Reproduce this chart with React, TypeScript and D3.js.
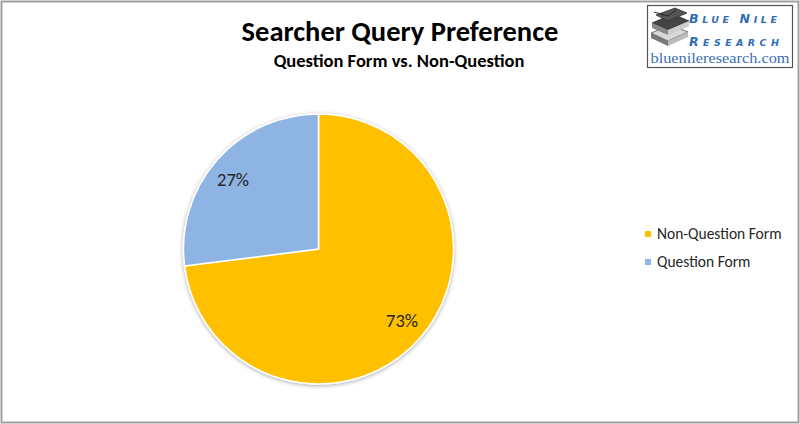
import React from "react";
import * as d3 from "d3";

const categories = ["Non-Question Form", "Question Form"];
const values = [73, 27];
const colors = ["#FFC000", "#8EB4E3"];
const labels = ["73%", "27%"];
const title = "Searcher Query Preference";
const subtitle = "Question Form vs. Non-Question";

const W = 800;
const H = 424;
const cx = 318.5;
const cy = 249;
const R = 135;

export default function App() {
  const pie = d3.pie<number>().sort(null).value((d) => d)(values);
  const arc = d3.arc<d3.PieArcDatum<number>>().innerRadius(0).outerRadius(R);
  const font = "Carlito, Lato, 'Open Sans', sans-serif";
  const labelPos = [
    [402, 327],
    [233, 186],
  ];
  return (
    <svg width={W} height={H} style={{ position: "absolute", left: 0, top: 0 }} xmlns="http://www.w3.org/2000/svg">
      <defs>
        <filter id="sh" x="-10%" y="-10%" width="120%" height="120%">
          <feGaussianBlur in="SourceAlpha" stdDeviation="2" />
          <feOffset dx="0" dy="1" result="b" />
          <feComponentTransfer>
            <feFuncA type="linear" slope="0.35" />
          </feComponentTransfer>
          <feMerge>
            <feMergeNode />
            <feMergeNode in="SourceGraphic" />
          </feMerge>
        </filter>
      </defs>
      <rect x={0} y={0} width={W} height={H} fill="#fff" />
      <rect x={1.5} y={1.5} width={W - 3} height={H - 3} fill="none" stroke="#a0a0a0" strokeWidth={2} />
      <text x={400} y={41} textAnchor="middle" fontFamily={font} fontWeight="bold" fontSize={28.5} fill="#000">
        {title}
      </text>
      <text x={399} y={67} textAnchor="middle" fontFamily={font} fontWeight="bold" fontSize={18.5} fill="#000">
        {subtitle}
      </text>
      <g transform={`translate(${cx},${cy})`} filter="url(#sh)">
        {pie.map((p, i) => (
          <path key={i} d={arc(p) || ""} fill={colors[i]} stroke="#fff" strokeWidth={1.5} />
        ))}
      </g>
      {pie.map((p, i) => (
        <text
          key={"l" + i}
          x={labelPos[i][0]}
          y={labelPos[i][1]}
          textAnchor="middle"
          fontFamily={font}
          fontSize={18.5}
          fill="#262626"
        >
          {labels[i]}
        </text>
      ))}
      {categories.map((c, i) => (
        <g key={"lg" + i} transform={`translate(645,${231 + i * 28})`}>
          <rect x={0} y={0} width={6} height={6} fill={colors[i]} />
          <text x={12} y={7.5} fontFamily={font} fontSize={15.5} fill="#262626">
            {c}
          </text>
        </g>
      ))}
      {/* logo */}
      <g>
        <rect x={647.5} y={5.5} width={145} height={62} fill="#fff" stroke="#555" strokeWidth={1.2} />
        <g>
          <path d="M651 33 L671 25 L688 32 L668 41 Z" fill="#d8d8d8" stroke="#555" strokeWidth={0.8} />
          <path d="M651 33 L668 41 L668 46 L651 38 Z" fill="#777" />
          <path d="M668 41 L688 32 L688 37 L668 46 Z" fill="#bbb" />
          <path d="M652 23 L673 14 L689 21 L668 30 Z" fill="#444" stroke="#333" strokeWidth={0.8} />
          <path d="M652 23 L668 30 L668 35 L652 28 Z" fill="#888" />
          <path d="M668 30 L689 21 L689 26 L668 35 Z" fill="#ccc" />
          <path d="M656 15 L675 8 L687 13 L668 21 Z" fill="#555" stroke="#333" strokeWidth={0.8} />
          <path d="M654 12 L668 16 L676 10" fill="none" stroke="#222" strokeWidth={1} />
        </g>
        <text x={689} y={23} fontFamily="'DejaVu Sans', sans-serif" fontWeight="bold" fontStyle="italic" fill="#2f6db5" letterSpacing={3.6}>
          <tspan fontSize={12.5}>B</tspan>
          <tspan fontSize={9.5}>LUE </tspan>
          <tspan fontSize={12.5}>N</tspan>
          <tspan fontSize={9.5}>ILE</tspan>
        </text>
        <text x={689} y={46} fontFamily="'DejaVu Sans', sans-serif" fontWeight="bold" fontStyle="italic" fill="#2f6db5" letterSpacing={4.4}>
          <tspan fontSize={12.5}>R</tspan>
          <tspan fontSize={9.5}>ESEARCH</tspan>
        </text>
        <text x={720} y={63} textAnchor="middle" fontFamily="'Liberation Serif', 'DejaVu Serif', serif" fontSize={15} fill="#3b6fb6" textLength={139} lengthAdjust="spacingAndGlyphs">
          bluenileresearch.com
        </text>
      </g>
    </svg>
  );
}
